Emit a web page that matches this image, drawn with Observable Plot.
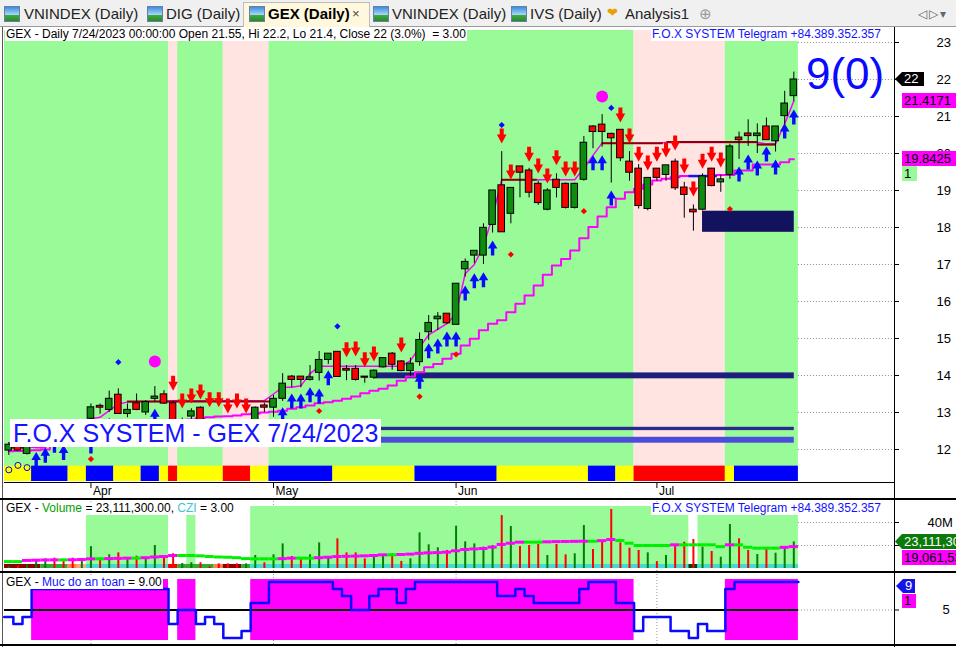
<!DOCTYPE html>
<html>
<head>
<meta charset="utf-8">
<script src="https://cdn.jsdelivr.net/npm/d3@7"></script>
<script src="https://cdn.jsdelivr.net/npm/@observablehq/plot@0.6"></script>
<style>
html,body{margin:0;padding:0;background:#fff;}
#root{position:relative;width:956px;height:647px;overflow:hidden;background:#fff;font-family:"Liberation Sans",Arial,sans-serif;}
#root div{box-sizing:border-box;}
</style>
</head>
<body>
<div id="root"></div>
<script>
// ---------------- DATA ----------------
const monthTickBars = [9, 29, 49, 71];
const monthTickLabels = ["Apr", "May", "Jun", "Jul"];
const priceTicks = [12, 13, 14, 15, 16, 17, 18, 19, 20, 21, 22, 23];

const opens = [11.97,12.08,11.88,12.10,12.35,12.60,12.50,12.55,12.45,12.83,
13.18,13.07,13.48,12.96,13.25,13.00,13.37,13.49,13.25,12.60,
12.89,13.13,12.75,12.70,12.60,12.55,12.50,12.78,13.19,13.13,
13.37,13.97,13.97,13.88,14.07,14.42,14.64,14.18,14.18,13.97,
13.94,14.22,14.59,14.38,14.12,14.36,15.17,15.52,15.67,15.37,
16.87,17.24,17.24,18.07,19.14,18.37,19.65,19.54,19.18,18.48,
19.29,19.18,18.53,19.29,20.73,20.78,20.53,20.64,19.78,19.59,
18.50,19.59,19.42,19.78,19.08,18.48,18.48,19.59,19.22,19.42,
20.43,20.54,20.47,20.73,20.33,21.01,21.55];
const highs = [12.18,12.12,12.15,12.40,12.60,12.65,12.60,12.65,12.80,13.23,
13.23,13.58,13.64,13.23,13.50,13.32,13.70,13.59,13.30,12.85,
13.10,13.15,12.80,12.75,12.65,12.60,12.75,13.15,13.25,13.46,
14.05,14.00,13.97,14.27,14.65,14.59,14.64,14.27,14.27,13.97,
14.15,14.48,14.62,14.40,14.47,15.15,15.62,15.70,15.67,16.48,
17.15,17.37,18.10,19.00,20.05,19.07,19.65,19.60,19.25,19.05,
19.45,19.20,19.20,20.46,20.75,21.05,20.55,20.64,20.05,19.70,
19.34,19.59,19.68,19.85,19.22,18.61,19.45,19.60,19.41,20.25,
20.58,20.91,20.80,20.96,20.73,21.68,22.20];
const lows = [11.84,11.95,11.85,12.05,12.30,12.40,12.35,12.40,12.40,12.80,
12.95,13.00,12.96,12.86,13.05,12.92,13.28,13.22,12.70,12.50,
12.80,12.70,12.60,12.50,12.40,12.40,12.45,12.70,13.00,12.87,
13.30,13.67,13.67,13.85,13.85,14.30,13.96,13.86,13.85,13.79,
13.90,14.20,14.14,14.10,13.97,14.25,14.95,15.22,15.38,15.37,
16.66,17.02,17.00,17.85,17.87,18.10,18.80,18.80,18.60,18.45,
18.80,18.50,18.50,19.25,20.13,20.17,19.20,19.78,19.25,18.50,
18.45,19.25,19.25,19.00,18.25,17.90,18.45,19.10,18.95,19.30,
19.84,20.19,20.00,20.36,20.04,20.67,21.40];
const closes = [12.13,11.97,12.08,12.35,12.55,12.45,12.40,12.45,12.75,13.14,
13.13,13.37,12.96,13.07,13.07,13.28,13.43,13.24,12.75,12.70,
13.03,12.75,12.65,12.55,12.50,12.45,12.70,13.13,13.13,13.37,
13.78,13.88,13.88,13.95,14.42,14.59,13.96,14.13,13.88,13.94,
14.13,14.47,14.29,14.12,14.32,14.96,15.42,15.59,15.41,16.48,
17.07,17.37,17.99,19.00,17.87,19.07,19.48,18.94,18.66,19.00,
19.07,18.53,19.18,20.29,20.58,20.58,20.41,19.87,19.48,18.58,
19.34,19.34,19.68,19.06,18.88,18.41,19.38,19.12,19.30,20.19,
20.36,20.47,20.54,20.36,20.73,21.35,22.00];

// fast trailing line and slow stepped line
const fastLine = [12.18,12.18,12.08,12.05,12.05,12.30,12.45,12.60,12.75,12.83,
12.87,13.05,13.23,13.28,13.30,13.30,13.30,13.30,13.32,13.32,
13.32,13.32,13.32,13.32,13.32,13.32,13.32,13.32,13.32,13.50,
13.68,13.68,13.72,14.05,14.25,14.25,14.25,14.25,14.25,14.25,
14.25,14.25,14.25,14.25,14.40,14.76,15.10,15.25,15.40,15.67,
16.75,17.00,17.50,18.30,19.29,19.29,19.29,19.29,19.29,19.29,
19.29,19.29,19.29,19.60,19.95,20.28,20.28,20.28,20.28,20.28,
20.28,20.28,20.30,20.30,20.30,20.30,20.30,20.30,20.30,20.30,
20.30,20.30,20.30,20.26,20.26,20.80,21.4171];
const slowLine = [11.95,11.96,11.97,11.98,12.00,12.10,12.15,12.20,12.25,12.30,
12.35,12.42,12.50,12.55,12.60,12.65,12.70,12.73,12.76,12.78,
12.81,12.85,12.87,12.89,12.90,12.92,12.95,12.97,13.00,13.02,
13.05,13.10,13.14,13.19,13.25,13.28,13.32,13.37,13.43,13.52,
13.59,13.64,13.73,13.86,13.97,14.09,14.22,14.31,14.45,14.59,
14.81,14.99,15.22,15.40,15.49,15.71,15.94,16.16,16.43,16.72,
16.97,17.15,17.38,17.71,18.01,18.30,18.55,18.78,18.95,19.05,
19.16,19.27,19.32,19.36,19.39,19.39,19.39,19.39,19.42,19.42,
19.54,19.54,19.70,19.70,19.70,19.76,19.8425];

// horizontal resistance (dark red) and support (blue) segments, in bar units
const resStart = [0.2, 13, 54, 65, 72.1, 82];
const resEnd = [2.4, 29, 57.9, 71.7, 82, 84];
const resLevel = [12.05, 13.30, 19.29, 20.28, 20.31, 20.24];
const supStart = [74.5];
const supEnd = [77.6];
const supLevel = [19.39];

// zones (navy bars / box)
const zoneStart = [40, 76, 40, 40];
const zoneEnd = [86.05, 86.05, 86.05, 86.05];
const zoneLow = [13.91, 17.87, 12.51, 12.17];
const zoneHigh = [14.07, 18.44, 12.60, 12.33];

// signals
const redArrowBars = [18,19,20,21,22,23,24,25,26,37,38,39,40,43,54,55,57,58,59,60,61,62,67,68,69,70,71,72,73,74,75,76,77,78];
const redArrowTips = [13.59,13.11,13.24,13.35,13.14,13.14,12.97,13.11,12.97,14.49,14.51,14.22,14.38,14.62,20.27,19.30,19.78,19.46,19.19,19.68,19.38,19.38,20.84,20.27,19.78,19.54,19.78,19.89,20.08,19.46,18.84,19.59,19.78,19.62];
const blueArrowBars = [3,4,5,6,9,11,16,30,31,32,33,34,35,45,46,47,48,49,50,51,52,53,64,65,66,80,81,82,83,84,85,86];
const blueArrowTips = [11.93,12.05,12.32,12.12,12.30,12.86,13.10,13.14,13.51,13.51,13.68,13.65,14.14,14.05,14.87,15.00,15.19,15.19,16.43,16.76,16.79,17.65,19.95,19.95,19.00,19.65,19.97,19.81,20.19,19.84,20.81,21.19];
const redDiamondBars = [9, 34, 45, 49, 55, 63, 79];
const redDiamondY = [11.74, 13.04, 13.43, 14.57, 17.27, 18.44, 18.50];
const blueDiamondBars = [12, 36, 54, 66];
const blueDiamondY = [14.36, 15.33, 20.77, 21.23];
const bigDotBars = [16, 65];
const bigDotY = [14.38, 21.54];
const ringBars = [0, 1, 2];
const ringY = [11.45, 11.57, 11.51];

// per-bar states, written as run lengths (state + number of bars)
const priceBgRuns = "G18 P1 G5 P5 G40 P10 G8";
const bandRuns = "Y3 B4 Y2 B3 Y3 B2 Y1 R1 Y5 R3 Y2 B7 Y9 B9 Y10 B3 Y2 R10 Y1 B7";
const volBgRuns = "W9 G9 W2 G1 W6 G48 W1 G11";
const cziRuns = "D4 G3 O1 L1 T9 R1 G4 O1 D2 G1 T48 K1 T11";

// volume panel (millions)
const vols = [1.5,2.0,3.0,6.3,8.4,9.0,7.0,9.0,7.8,19.0,
9.0,11.9,13.6,8.4,10.7,9.0,20.0,9.0,12.8,4.3,
5.0,5.0,1.5,4.0,4.0,4.0,4.0,11.3,5.0,11.9,
21.4,10.4,7.8,11.9,22.3,9.8,25.8,13.6,13.6,8.4,
11.9,11.9,12.8,6.2,8.4,31.0,20.6,18.0,15.7,36.8,
23.2,21.4,18.6,20.0,46.0,36.5,19.1,20.0,20.9,11.3,
20.9,11.9,12.8,37.4,16.5,23.5,51.3,22.3,17.7,15.7,
13.6,6.0,11.3,19.1,22.9,25.2,18.6,14.8,9.8,38.3,
25.8,15.7,12.2,17.1,13.3,19.1,23.1113];
const volMA = [6.0,6.0,7.0,7.2,7.4,7.5,7.5,7.6,7.8,8.4,
8.4,8.6,8.8,9.0,9.0,9.4,10.0,10.4,11.3,11.3,
11.3,11.0,10.4,10.0,9.8,9.4,8.6,8.4,8.4,8.4,
8.6,9.0,9.0,9.0,9.4,9.8,10.4,10.6,10.8,11.0,
11.3,11.9,11.9,12.2,12.5,13.2,13.6,13.8,14.2,15.4,
16.5,17.0,17.4,18.6,20.9,22.0,22.9,22.9,22.9,23.2,
23.4,23.5,23.6,23.7,23.7,24.2,25.2,24.3,22.0,20.0,
20.0,20.0,20.0,20.6,20.6,20.6,20.6,20.6,19.0,20.6,
20.6,18.5,17.7,17.7,17.7,18.4,19.0615];
const volTicks = [20, 40];
const volTickLabels = ["", "40M"];

// safety level panel
const safety = [4,3,4,8,8,8,8,8,8,8,
8,8,8,8,8,8,8,8,3,5,
5,3,4,3,1,1,2,6,6,9,
9,9,9,9,9,9,8,7,5,5,
7,8,8,6,8,9,9,9,9,9,
9,9,9,9,7,7,8,7,6,6,
6,6,6,8,9,9,9,6,6,2,
4,4,4,2,2,1,3,2,2,8,
9,9,9,9,9,9,9];
const safetyMid = 5;

// texts
const headerPrice = 'GEX - Daily 7/24/2023 00:00:00 Open 21.55, Hi 22.2, Lo 21.4, Close 22 (3.0%)&nbsp;&nbsp;= 3.00';
const telegram = 'F.O.X SYSTEM Telegram +84.389.352.357';
const bigCount = '9(0)';
const stampText = 'F.O.X SYSTEM - GEX 7/24/2023';
const indicatorValue = '1';
const volVal = '23,111,30';
const volMAVal = '19,061,53';
const safetyVal = '9';
const safetySub = '1';
const tabs = ["VNINDEX (Daily)", "DIG (Daily)", "GEX (Daily)", "VNINDEX (Daily)", "IVS (Daily)", "Analysis1"];

// ---------------- LAYOUT ----------------
const root = document.getElementById("root");
function addDiv(style, html) {
  const d = document.createElement("div");
  d.style.cssText = "position:absolute;" + style;
  if (html !== undefined) d.innerHTML = html;
  root.appendChild(d);
  return d;
}
function expandRuns(spec) {
  return spec.split(" ").map(t => t[0].repeat(+t.slice(1))).join("");
}
const W = 956;
const X_MIN = -0.471, X_MAX = 97.03, X_END = 86.5;
const PX_X = 890 / (X_MAX - X_MIN);
const P_LO = 11.135, P_HI = 23.324, BAND_TOP = 11.55;
const PX_Y = (P_HI - P_LO) / 451;
const N = opens.length;
const bars = d3.range(N);
const GREEN_BG = "#98fb98", PINK_BG = "#ffe4e1";

function runs(states) {
  const out = [];
  let s = 0;
  for (let i = 1; i <= states.length; i++) {
    if (i === states.length || states[i] !== states[s]) {
      out.push({x1: Math.max(s - 0.5, X_MIN), x2: i - 0.5, key: states[s]});
      s = i;
    }
  }
  return out;
}

const candles = bars.map(i => ({i, o: opens[i], h: highs[i], l: lows[i], c: closes[i], up: closes[i] >= opens[i]}));
const bgColor = {G: GREEN_BG, P: PINK_BG};
const bandColor = {Y: "#ffff00", B: "#0000ff", R: "#ff0000"};

const arrowUp = {draw(ctx) {
  ctx.moveTo(0, 0); ctx.lineTo(4.8, 8); ctx.lineTo(1.7, 8); ctx.lineTo(1.7, 15);
  ctx.lineTo(-1.7, 15); ctx.lineTo(-1.7, 8); ctx.lineTo(-4.8, 8); ctx.closePath();
}};
const arrowDown = {draw(ctx) {
  ctx.moveTo(0, 0); ctx.lineTo(4.8, -9); ctx.lineTo(2, -9); ctx.lineTo(2, -15);
  ctx.lineTo(-2, -15); ctx.lineTo(-2, -9); ctx.lineTo(-4.8, -9); ctx.closePath();
}};

const baseStyle = {background: "transparent", fontFamily: "'Liberation Sans', Arial, sans-serif", overflow: "visible"};

// ---------- price panel ----------
const pricePlot = Plot.plot({
  width: W, height: 470,
  marginLeft: 4, marginRight: 62, marginTop: 2, marginBottom: 17,
  x: {domain: [X_MIN, X_MAX], axis: null},
  y: {domain: [P_LO, P_HI], axis: null},
  style: baseStyle,
  marks: [
    Plot.rect(runs(expandRuns(priceBgRuns)), {x1: "x1", x2: "x2", y1: P_LO, y2: P_HI, fill: d => bgColor[d.key]}),
    Plot.rect(runs(expandRuns(bandRuns)), {x1: "x1", x2: "x2", y1: P_LO, y2: BAND_TOP, fill: d => bandColor[d.key]}),
    Plot.ruleY(priceTicks, {x1: X_END, x2: X_MAX, stroke: "#8c8c8c", strokeDasharray: "1,2"}),
    Plot.ruleY(priceTicks, {x1: X_MAX, x2: X_MAX + 5 / PX_X, stroke: "#000"}),
    Plot.text(priceTicks, {x: X_MAX, y: d => d, text: d => String(d), dx: 42, textAnchor: "start", fontSize: 13, fill: "#000"}),
    // zones
    Plot.rect(d3.range(zoneStart.length), {x1: i => zoneStart[i], x2: i => zoneEnd[i], y1: i => zoneLow[i], y2: i => zoneHigh[i],
      fill: i => ["#1e1e7c", "#12125e", "#2a2a8c", "#4c4cdc"][i]}),
    // lines
    Plot.line(bars, {x: i => i, y: i => slowLine[i], curve: "step", stroke: "#ff00ff", strokeWidth: 2}),
    Plot.line(bars, {x: i => i, y: i => fastLine[i], stroke: "#ff00ff", strokeWidth: 1.5}),
    Plot.ruleY(d3.range(resStart.length), {x1: i => resStart[i], x2: i => resEnd[i], y: i => resLevel[i], stroke: "#8b0000", strokeWidth: 2}),
    Plot.ruleY(d3.range(supStart.length), {x1: i => supStart[i], x2: i => supEnd[i], y: i => supLevel[i], stroke: "#1414f0", strokeWidth: 2.5}),
    // candles
    Plot.ruleX(candles, {x: "i", y1: "l", y2: "h", stroke: "#000", strokeWidth: 1}),
    Plot.rect(candles, {x1: d => d.i - 0.36, x2: d => d.i + 0.36, y1: d => Math.min(d.o, d.c), y2: d => Math.max(d.o, d.c),
      fill: d => d.up ? "#0f8c0f" : "#ff0000", stroke: "#000", strokeWidth: 1}),
    // signals
    Plot.dot(redArrowBars, {x: d => d, y: (d, i) => redArrowTips[i], symbol: arrowDown, r: 5, fill: "#ff0000", stroke: "none"}),
    Plot.dot(blueArrowBars, {x: d => d, y: (d, i) => blueArrowTips[i], symbol: arrowUp, r: 5, fill: "#0a0aff", stroke: "none"}),
    Plot.dot(redDiamondBars, {x: d => d, y: (d, i) => redDiamondY[i], symbol: "diamond2", r: 2.8, fill: "#ff0000", stroke: "none"}),
    Plot.dot(blueDiamondBars, {x: d => d, y: (d, i) => blueDiamondY[i], symbol: "diamond2", r: 2.8, fill: "#0a0aff", stroke: "none"}),
    Plot.dot(bigDotBars, {x: d => d, y: (d, i) => bigDotY[i], r: 6, fill: "#ff00ff", stroke: "none"}),
    Plot.dot(ringBars, {x: d => d, y: (d, i) => ringY[i], r: 3, fill: "#ffff00", stroke: "#0000ff", strokeWidth: 1}),
    // date axis
    Plot.ruleY([P_LO], {x1: X_MIN, x2: X_MAX, stroke: "#000", dy: 1}),
    Plot.ruleX(monthTickBars, {x: d => d, y1: P_LO, y2: P_LO - 6 * PX_Y, stroke: "#000", dy: 1}),
    Plot.text(monthTickBars, {x: d => d, y: P_LO, text: (d, i) => monthTickLabels[i], dx: 2, dy: 10, textAnchor: "start", fontSize: 12, fill: "#000"})
  ]
});
addDiv("left:0;top:28px;width:956px;height:470px;").appendChild(pricePlot);

// ---------- volume panel ----------
const V_LO = -2.61, V_HI = 59.13, V_BG_TOP = 53.9, CZI_TOP = 3.5;
const volRuns = runs(expandRuns(volBgRuns)).filter(r => r.key === "G");
const cziColor = {D: "#8b0000", G: "#33aa33", O: "#ff7f50", L: "#ffa57a", T: "#45d9cf", R: "#ff0000", K: "#0d3d0d"};
const volPlot = Plot.plot({
  width: W, height: 73,
  marginLeft: 4, marginRight: 62, marginTop: 1, marginBottom: 1,
  x: {domain: [X_MIN, X_MAX], axis: null},
  y: {domain: [V_LO, V_HI], axis: null},
  style: baseStyle,
  marks: [
    Plot.ruleX(monthTickBars, {x: d => d, y1: V_LO, y2: V_HI, stroke: "#999", strokeDasharray: "1,2"}),
    Plot.rect(volRuns, {x1: "x1", x2: "x2", y1: 0, y2: V_BG_TOP, fill: GREEN_BG}),
    Plot.ruleY(volTicks, {x1: X_END, x2: X_MAX, stroke: "#8c8c8c", strokeDasharray: "1,2"}),
    Plot.ruleY(volTicks, {x1: X_MAX, x2: X_MAX + 5 / PX_X, stroke: "#000"}),
    Plot.text(volTicks, {x: X_MAX, y: d => d, text: (d, i) => volTickLabels[i], dx: 33, textAnchor: "start", fontSize: 13, fill: "#000"}),
    Plot.rect(runs(expandRuns(cziRuns)), {x1: "x1", x2: "x2", y1: 0, y2: CZI_TOP, fill: d => cziColor[d.key]}),
    Plot.ruleX(bars, {x: i => i, y1: 0, y2: i => vols[i], stroke: i => candles[i].up ? "#008000" : "#ff0000", strokeWidth: 2}),
    Plot.ruleY(bars, {x1: i => Math.max(i - 0.5, X_MIN), x2: i => i + 0.5, y: i => volMA[i],
      stroke: i => (i > 0 && volMA[i] > volMA[i - 1]) ? "#ff00ff" : "#00ee00", strokeWidth: 3})
  ]
});
addDiv("left:0;top:499px;width:956px;height:73px;").appendChild(volPlot);

// ---------- safety panel ----------
const S_LO = 0.071, S_HI = 10.214, S_BOX_LO = 0.64, S_BOX_HI = 9.36;
const safeRuns = runs(safety.map(v => v >= safetyMid ? "M" : "N")).filter(r => r.key === "M");
const stepPts = bars.map(i => ({x: i - 0.5, y: safety[i]})).concat([{x: N - 0.5, y: safety[N - 1]}]);
const safePlot = Plot.plot({
  width: W, height: 73,
  marginLeft: 4, marginRight: 62, marginTop: 1, marginBottom: 1,
  x: {domain: [X_MIN, X_MAX], axis: null},
  y: {domain: [S_LO, S_HI], axis: null},
  style: baseStyle,
  marks: [
    Plot.ruleX(monthTickBars, {x: d => d, y1: S_LO, y2: S_HI, stroke: "#999", strokeDasharray: "1,2"}),
    Plot.rect(safeRuns, {x1: "x1", x2: "x2", y1: S_BOX_LO, y2: S_BOX_HI, fill: "#ff00ff"}),
    Plot.ruleY([safetyMid], {x1: X_MIN, x2: X_END, stroke: "#000", strokeWidth: 2}),
    Plot.ruleY([safetyMid], {x1: X_END, x2: X_MAX, stroke: "#8c8c8c", strokeDasharray: "1,2"}),
    Plot.ruleY([safetyMid], {x1: X_MAX, x2: X_MAX + 5 / PX_X, stroke: "#000"}),
    Plot.text([safetyMid], {x: X_MAX, y: d => d, text: d => String(d), dx: 48, textAnchor: "start", fontSize: 13, fill: "#000"}),
    Plot.line(stepPts, {x: "x", y: "y", curve: "step-after", stroke: "#0a0aff", strokeWidth: 2.5})
  ]
});
addDiv("left:0;top:572px;width:956px;height:73px;").appendChild(safePlot);

// ---------- frame lines ----------
addDiv("left:0;top:0;width:956px;height:27px;background:#f0f0f0;");
addDiv("left:0;top:26px;width:956px;height:1px;background:#9a9a9a;");
addDiv("left:894px;top:27px;width:1px;height:620px;background:#000;");
addDiv("left:2px;top:27px;width:1px;height:620px;background:#555;");
addDiv("left:0;top:498px;width:956px;height:2px;background:#000;");
addDiv("left:0;top:571px;width:956px;height:2px;background:#000;");
addDiv("left:0;top:644px;width:956px;height:2px;background:#000;");

// ---------- tab bar ----------
function tabIcon(x, heart) {
  if (heart) {
    addDiv(`left:${x}px;top:6px;width:15px;height:14px;font-size:13px;line-height:14px;color:#e8a000;`, "&#10084;");
    return;
  }
  addDiv(`left:${x}px;top:6px;width:16px;height:16px;border:1px solid #6a7fa8;background:linear-gradient(to bottom,#3b8ee0 0%,#a9d6f7 55%,#3fae3f 56%,#2a8a2a 100%);`);
}
addDiv("left:243px;top:2px;width:127px;height:25px;background:#fff8dc;border:1px solid #bdbdbd;border-bottom:none;");
const tabX = [4, 147, 249, 373, 511, 607];
const textX = [24, 166, 268, 392, 530, 625];
tabs.forEach((t, k) => {
  tabIcon(tabX[k], k === 5);
  addDiv(`left:${textX[k]}px;top:5px;font-size:15px;line-height:18px;color:#222;white-space:nowrap;${k === 2 ? "font-weight:bold;color:#000;" : ""}`, t);
});
addDiv("left:352px;top:6px;font-size:13px;line-height:16px;color:#444;", "&#215;");
addDiv("left:699px;top:5px;font-size:15px;line-height:18px;color:#999;", "&#8853;");
addDiv("left:918px;top:6px;font-size:12px;line-height:16px;color:#666;white-space:nowrap;letter-spacing:2px;", "&#9665;&#9655;&#9662;");

// ---------- text labels ----------
function label(left, top, html, extra) {
  return addDiv(`left:${left}px;top:${top}px;font-size:12px;line-height:13px;background:#fff;white-space:nowrap;padding:0 1px;color:#000;${extra || ""}`, html);
}
label(5, 28, headerPrice);
label(651, 28, telegram, "color:#1212ff;");
label(5, 502, 'GEX - <span style="color:#00a000">Volume</span> = 23,111,300.00, <span style="color:#3ec6d6">CZI</span> = 3.00');
label(651, 502, telegram, "color:#1212ff;");
label(5, 576, 'GEX - <span style="color:#1212ff">Muc do an toan</span> = 9.00');

addDiv("left:806px;top:52px;font-size:44px;line-height:44px;color:#0a0aff;white-space:nowrap;", bigCount);
addDiv("left:10px;top:419px;width:371px;height:28px;background:#fff;color:#1414ff;font-size:25px;line-height:28px;padding-left:3px;white-space:nowrap;", stampText);

// ---------- value tags positioned with the plots' scales ----------
function tag(left, top, w, h, bg, color, text, arrow) {
  addDiv(`left:${left}px;top:${Math.round(top)}px;width:${w}px;height:${h}px;background:${bg};color:${color};font-size:13px;line-height:${h}px;padding-left:${arrow ? 9 : 2}px;white-space:nowrap;overflow:hidden;` +
    (arrow ? "clip-path:polygon(0 50%,7px 0,100% 0,100% 100%,7px 100%);" : ""), text);
}
const yP = pricePlot.scale("y");
const yV = volPlot.scale("y");
const yS = safePlot.scale("y");
const pTop = 28, vTop = 499, sTop = 572;
tag(895, pTop + yP.apply(closes[N - 1]) - 7, 29, 14, "#000", "#fff", String(closes[N - 1]), true);
tag(902, pTop + yP.apply(fastLine[N - 1]) - 7.5, 54, 15, "#ff00ff", "#000", fastLine[N - 1].toFixed(4), false);
const slowY = pTop + yP.apply(slowLine[N - 1]) - 7.5;
tag(902, slowY, 54, 15, "#ff00ff", "#000", slowLine[N - 1].toFixed(4), false);
tag(902, slowY + 15, 15, 15, GREEN_BG, "#000", indicatorValue, false);
const volTagTop = vTop + yV.apply(vols[N - 1]) - 7;
tag(895, volTagTop, 61, 15, "#0b7a0b", "#fff", volVal, true);
tag(902, volTagTop + 16, 54, 15, "#ff00ff", "#000", volMAVal, false);
const sTagTop = Math.max(sTop + 7, sTop + yS.apply(safety[N - 1]) - 7);
tag(896, sTagTop, 19, 14, "#1414e6", "#fff", safetyVal, true);
tag(902, sTagTop + 15, 14, 14, "#ff00ff", "#000", safetySub, false);
</script>
</body>
</html>
